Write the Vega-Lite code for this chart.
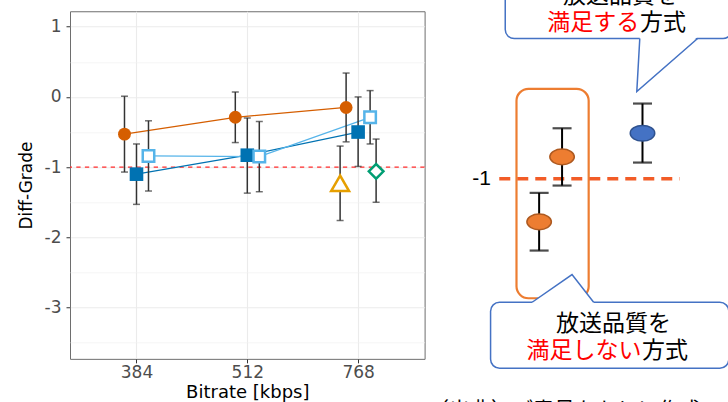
{
  "$schema": "https://vega.github.io/schema/vega-lite/v6.json",
  "background": "white",
  "padding": {"left": 16, "top": -20.75, "right": -4, "bottom": 0},
  "spacing": 2,
  "resolve": {"scale": {"fill": "independent", "stroke": "independent", "color": "independent"}},
  "datasets": {
    "grades": [
      {"bitrate": "384", "method": "A", "mean": -0.53, "upper": 0.01, "lower": -1.07},
      {"bitrate": "512", "method": "A", "mean": -0.29, "upper": 0.07, "lower": -0.65},
      {"bitrate": "768", "method": "A", "mean": -0.15, "upper": 0.34, "lower": -0.64},
      {"bitrate": "384", "method": "B", "mean": -1.10, "upper": -0.67, "lower": -1.53},
      {"bitrate": "512", "method": "B", "mean": -0.83, "upper": -0.30, "lower": -1.37},
      {"bitrate": "768", "method": "B", "mean": -0.50, "upper": 0.00, "lower": -0.99},
      {"bitrate": "384", "method": "C", "mean": -0.84, "upper": -0.34, "lower": -1.34},
      {"bitrate": "512", "method": "C", "mean": -0.85, "upper": -0.35, "lower": -1.35},
      {"bitrate": "768", "method": "C", "mean": -0.29, "upper": 0.09, "lower": -0.67},
      {"bitrate": "768", "method": "D", "mean": -1.23, "upper": -0.70, "lower": -1.76},
      {"bitrate": "768", "method": "E", "mean": -1.06, "upper": -0.60, "lower": -1.50}
    ],
    "threshold": [{"threshold": -1}],
    "group": [{"x1": 29.4, "x2": 53.38, "y1": 78.03, "y2": 25.95}],
    "callouts": [
      {"id": "top", "x1": 25.66, "x2": 101.0, "y1": 104.98, "y2": 90.55},
      {"id": "bottom", "x1": 20.79, "x2": 99.93, "y1": 24.95, "y2": 8.53}
    ],
    "tailfill": [
      {"id": "top", "x": 69.37, "y": 77.36, "y2": 77.36},
      {"id": "top", "x": 70.36, "y": 91.0, "y2": 78.01},
      {"id": "top", "x": 89.57, "y": 91.0, "y2": 91.0},
      {"id": "bottom", "x": 34.6, "y": 24.95, "y2": 24.5},
      {"id": "bottom", "x": 47.85, "y": 31.84, "y2": 24.5},
      {"id": "bottom", "x": 55.03, "y": 24.95, "y2": 24.5}
    ],
    "tails": [
      {"id": "top", "k": 1, "x": 70.36, "y": 90.55},
      {"id": "top", "k": 2, "x": 69.37, "y": 77.36},
      {"id": "top", "k": 3, "x": 89.57, "y": 90.55},
      {"id": "bottom", "k": 1, "x": 34.6, "y": 24.95},
      {"id": "bottom", "k": 2, "x": 47.85, "y": 31.84},
      {"id": "bottom", "k": 3, "x": 55.03, "y": 24.95}
    ],
    "level": [{"x1": 23.68, "x2": 83.61, "y": 55.65, "label": "-1", "lx": 20.9}],
    "bars": [
      {"grp": "ok", "x": 71.26, "mid": 66.99, "hi": 74.38, "lo": 59.70},
      {"grp": "ng", "x": 44.54, "mid": 61.12, "hi": 68.23, "lo": 53.98},
      {"grp": "ng", "x": 36.92, "mid": 44.95, "hi": 52.16, "lo": 37.81}
    ],
    "labels": [
      {"part": "line1", "text": "放送品質を", "x": 63.97, "y": 101.12},
      {"part": "emph", "text": "満足する", "x": 70.2, "y": 94.4},
      {"part": "rest", "text": "方式", "x": 70.4, "y": 94.4},
      {"part": "line1", "text": "放送品質を", "x": 61.66, "y": 19.65},
      {"part": "emph", "text": "満足しない", "x": 70.9, "y": 12.94},
      {"part": "rest", "text": "方式", "x": 71.1, "y": 12.94},
      {"part": "source", "text": "（出典）ご意見をもとに作成", "x": 0.0, "y": -2.0}
    ]
  },
  "hconcat": [
    {
      "width": 354.6,
      "height": 347.6,
      "view": {"stroke": "#6E6E6E", "strokeWidth": 1},
      "layer": [
        {
          "data": {"name": "threshold"},
          "mark": {"type": "rule", "color": "#FF2B2B", "strokeDash": [4.3, 4.3], "strokeWidth": 1.1},
          "encoding": {
            "y": {
              "field": "threshold",
              "type": "quantitative",
              "scale": {"domain": [-3.73, 1.22], "nice": false, "zero": false},
              "axis": {"orient": "left", "values": [-3.5, -2.5, -1.5, -0.5, 0.5], "grid": true, "gridColor": "#F2F2F2", "gridWidth": 0.7, "labels": false, "ticks": false, "domain": false, "title": null}
            }
          }
        },
        {
          "data": {"name": "grades"},
          "encoding": {
            "x": {
              "field": "bitrate",
              "type": "ordinal",
              "scale": {"type": "point", "padding": 0.6},
              "axis": {"title": "Bitrate [kbps]", "labelAngle": 0, "grid": true, "gridColor": "#EBEBEB", "gridWidth": 1.1, "domain": false, "tickColor": "#333333", "tickSize": 4, "tickWidth": 1, "labelFont": "DejaVu Sans", "labelFontSize": 17, "labelColor": "#4D4D4D", "labelPadding": 2, "titleFont": "DejaVu Sans", "titleFontSize": 18, "titleFontWeight": "normal", "titleColor": "#000000", "titlePadding": 3}
            },
            "xOffset": {
              "field": "method",
              "type": "nominal",
              "scale": {"type": "point", "domain": ["D", "A", "g1", "B", "g2", "C", "E"], "range": [-18, 18], "padding": 0}
            }
          },
          "layer": [
            {
              "mark": {"type": "line", "strokeWidth": 1.3},
              "encoding": {
                "y": {
                  "field": "mean",
                  "type": "quantitative",
                  "axis": {"orient": "left", "values": [-3, -2, -1, 0, 1], "labelExpr": "'' + datum.value", "title": "Diff-Grade", "grid": true, "gridColor": "#EBEBEB", "gridWidth": 1.1, "domain": false, "tickColor": "#333333", "tickSize": 4, "tickWidth": 1, "labelFont": "DejaVu Sans", "labelFontSize": 17, "labelColor": "#4D4D4D", "labelPadding": 5, "titleFont": "DejaVu Sans", "titleFontSize": 17, "titleFontWeight": "normal", "titleColor": "#000000", "titlePadding": 9}
                },
                "color": {
                  "field": "method",
                  "type": "nominal",
                  "scale": {"domain": ["A", "B", "C", "D", "E"], "range": ["#D55E00", "#0072B2", "#56B4E9", "#E69F00", "#009E73"]},
                  "legend": null
                }
              }
            },
            {
              "mark": {"type": "rule", "color": "#333333", "strokeWidth": 1.5},
              "encoding": {
                "y": {"field": "lower", "type": "quantitative"},
                "y2": {"field": "upper"}
              }
            },
            {
              "mark": {"type": "tick", "color": "#333333", "size": 7, "thickness": 1.5, "orient": "horizontal"},
              "encoding": {"y": {"field": "lower", "type": "quantitative"}}
            },
            {
              "mark": {"type": "tick", "color": "#333333", "size": 7, "thickness": 1.5, "orient": "horizontal"},
              "encoding": {"y": {"field": "upper", "type": "quantitative"}}
            },
            {
              "transform": [{"filter": "datum.method === 'A'"}],
              "mark": {"type": "point", "shape": "circle", "filled": true, "opacity": 1, "color": "#D55E00", "size": 165},
              "encoding": {"y": {"field": "mean", "type": "quantitative"}}
            },
            {
              "transform": [{"filter": "datum.method === 'B'"}],
              "mark": {"type": "point", "shape": "square", "filled": true, "opacity": 1, "color": "#0072B2", "size": 185},
              "encoding": {"y": {"field": "mean", "type": "quantitative"}}
            },
            {
              "transform": [{"filter": "datum.method === 'C'"}],
              "mark": {"type": "point", "shape": "square", "filled": true, "opacity": 1, "fill": "#FFFFFF", "stroke": "#56B4E9", "strokeWidth": 2.5, "size": 132},
              "encoding": {"y": {"field": "mean", "type": "quantitative"}}
            },
            {
              "transform": [{"filter": "datum.method === 'D'"}],
              "mark": {"type": "point", "shape": "triangle-up", "filled": true, "opacity": 1, "fill": "#FFFFFF", "stroke": "#E69F00", "strokeWidth": 2.5, "size": 320},
              "encoding": {"y": {"field": "mean", "type": "quantitative"}}
            },
            {
              "transform": [{"filter": "datum.method === 'E'"}],
              "mark": {"type": "point", "shape": "diamond", "filled": true, "opacity": 1, "fill": "#FFFFFF", "stroke": "#009E73", "strokeWidth": 2.5, "size": 215},
              "encoding": {"y": {"field": "mean", "type": "quantitative"}}
            }
          ]
        }
      ],
      "resolve": {"axis": {"y": "independent"}}
    },
    {
      "width": 301,
      "height": 391.3,
      "view": {"stroke": null},
      "layer": [
        {
          "data": {"name": "group"},
          "mark": {"type": "rect", "filled": false, "stroke": "#ED7D31", "strokeWidth": 2.2, "cornerRadius": 12, "clip": true},
          "encoding": {
            "x": {"field": "x1", "type": "quantitative", "scale": {"domain": [0, 100], "nice": false, "zero": false}, "axis": null},
            "x2": {"field": "x2"},
            "y": {"field": "y1", "type": "quantitative", "scale": {"domain": [0, 97.34], "nice": false, "zero": false}, "axis": null},
            "y2": {"field": "y2"}
          }
        },
        {
          "data": {"name": "callouts"},
          "mark": {"type": "rect", "fill": "#FFFFFF", "stroke": "#4472C4", "strokeWidth": 1.5, "cornerRadius": 9},
          "encoding": {
            "x": {"field": "x1", "type": "quantitative", "axis": null},
            "x2": {"field": "x2"},
            "y": {"field": "y1", "type": "quantitative", "axis": null},
            "y2": {"field": "y2"}
          }
        },
        {
          "data": {"name": "tailfill"},
          "mark": {"type": "area", "color": "#FFFFFF", "opacity": 1},
          "encoding": {
            "x": {"field": "x", "type": "quantitative", "axis": null},
            "y": {"field": "y", "type": "quantitative", "axis": null},
            "y2": {"field": "y2"},
            "detail": {"field": "id"}
          }
        },
        {
          "data": {"name": "tails"},
          "mark": {"type": "line", "color": "#4472C4", "strokeWidth": 1.5},
          "encoding": {
            "x": {"field": "x", "type": "quantitative", "axis": null},
            "y": {"field": "y", "type": "quantitative", "axis": null},
            "order": {"field": "k"},
            "detail": {"field": "id"}
          }
        },
        {
          "data": {"name": "level"},
          "mark": {"type": "rule", "color": "#F25C27", "strokeWidth": 3.5, "strokeDash": [11, 7]},
          "encoding": {
            "x": {"field": "x1", "type": "quantitative", "axis": null},
            "x2": {"field": "x2"},
            "y": {"field": "y", "type": "quantitative", "axis": null}
          }
        },
        {
          "data": {"name": "level"},
          "mark": {"type": "text", "align": "right", "baseline": "middle", "font": "Liberation Sans", "fontSize": 21, "color": "#000000"},
          "encoding": {
            "x": {"field": "lx", "type": "quantitative", "axis": null},
            "y": {"field": "y", "type": "quantitative", "axis": null},
            "text": {"field": "label"}
          }
        },
        {
          "data": {"name": "bars"},
          "mark": {"type": "rule", "color": "#000000", "strokeWidth": 2},
          "encoding": {
            "x": {"field": "x", "type": "quantitative", "axis": null},
            "y": {"field": "lo", "type": "quantitative", "axis": null},
            "y2": {"field": "hi"}
          }
        },
        {
          "data": {"name": "bars"},
          "mark": {"type": "tick", "color": "#000000", "size": 19, "thickness": 2.2, "orient": "horizontal"},
          "encoding": {
            "x": {"field": "x", "type": "quantitative", "axis": null},
            "y": {"field": "lo", "type": "quantitative", "axis": null}
          }
        },
        {
          "data": {"name": "bars"},
          "mark": {"type": "tick", "color": "#000000", "size": 19, "thickness": 2.2, "orient": "horizontal"},
          "encoding": {
            "x": {"field": "x", "type": "quantitative", "axis": null},
            "y": {"field": "hi", "type": "quantitative", "axis": null}
          }
        },
        {
          "data": {"name": "bars"},
          "mark": {"type": "point", "shape": "M-1,0A1,0.64,0,1,1,1,0A1,0.64,0,1,1,-1,0Z", "size": 600, "filled": true, "opacity": 1, "strokeWidth": 1.5},
          "encoding": {
            "x": {"field": "x", "type": "quantitative", "axis": null},
            "y": {"field": "mid", "type": "quantitative", "axis": null},
            "fill": {"field": "grp", "type": "nominal", "scale": {"domain": ["ok", "ng"], "range": ["#4472C4", "#ED7D31"]}, "legend": null},
            "stroke": {"field": "grp", "type": "nominal", "scale": {"domain": ["ok", "ng"], "range": ["#2F528F", "#AE5A21"]}, "legend": null}
          }
        },
        {
          "data": {"name": "labels"},
          "transform": [{"filter": "datum.part === 'line1'"}],
          "mark": {"type": "text", "align": "center", "baseline": "middle", "font": "Noto Sans CJK JP", "fontSize": 23, "color": "#000000"},
          "encoding": {
            "x": {"field": "x", "type": "quantitative", "axis": null},
            "y": {"field": "y", "type": "quantitative", "axis": null},
            "text": {"field": "text"}
          }
        },
        {
          "data": {"name": "labels"},
          "transform": [{"filter": "datum.part === 'emph'"}],
          "mark": {"type": "text", "align": "right", "baseline": "middle", "font": "Noto Sans CJK JP", "fontSize": 23, "color": "#FF0000"},
          "encoding": {
            "x": {"field": "x", "type": "quantitative", "axis": null},
            "y": {"field": "y", "type": "quantitative", "axis": null},
            "text": {"field": "text"}
          }
        },
        {
          "data": {"name": "labels"},
          "transform": [{"filter": "datum.part === 'rest'"}],
          "mark": {"type": "text", "align": "left", "baseline": "middle", "font": "Noto Sans CJK JP", "fontSize": 23, "color": "#000000"},
          "encoding": {
            "x": {"field": "x", "type": "quantitative", "axis": null},
            "y": {"field": "y", "type": "quantitative", "axis": null},
            "text": {"field": "text"}
          }
        },
        {
          "data": {"name": "labels"},
          "transform": [{"filter": "datum.part === 'source'"}],
          "mark": {"type": "text", "align": "left", "baseline": "middle", "font": "Noto Sans CJK JP", "fontSize": 21, "color": "#000000", "clip": true},
          "encoding": {
            "x": {"field": "x", "type": "quantitative", "axis": null},
            "y": {"field": "y", "type": "quantitative", "axis": null},
            "text": {"field": "text"}
          }
        }
      ]
    }
  ]
}
